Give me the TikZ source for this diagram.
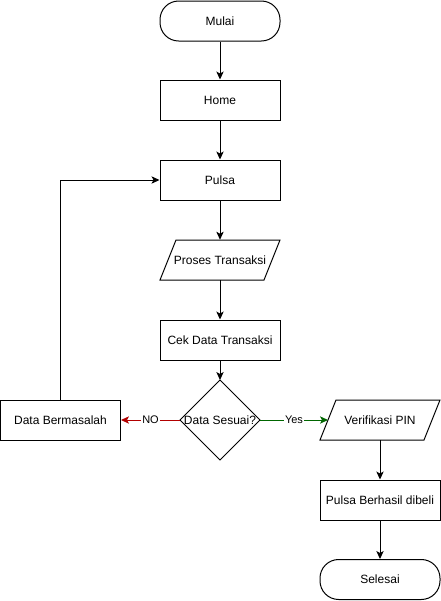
\documentclass[tikz,border=0pt]{standalone}
\usepackage{fontspec}
\setmainfont{Liberation Sans}
\usetikzlibrary{arrows.meta}
\definecolor{noRed}{HTML}{B20000}
\definecolor{yesGreen}{HTML}{006600}
\begin{document}
\begin{tikzpicture}[x=0.75pt,y=-0.75pt,
  every node/.style={font=\fontsize{9pt}{11pt}\selectfont},
  box/.style={draw, line width=0.75pt, minimum width=90pt, minimum height=30pt, inner sep=0pt},
  term/.style={box, rounded corners=14pt},
  plain/.style={minimum width=90pt, minimum height=30pt, inner sep=0pt},
  shapeline/.style={line width=0.75pt},
  flow/.style={line width=0.75pt, -{Stealth[length=6pt,width=5.5pt,inset=1.5pt]}},
  lbl/.style={fill=white, text=black, inner sep=1pt, font=\fontsize{8.25pt}{10pt}\selectfont}]
\useasboundingbox (0,0) rectangle (441,601);

\node[term] (mulai) at (220,21) {Mulai};
\node[box] (home) at (220,100) {Home};
\node[box] (pulsa) at (220,180) {Pulsa};
\draw[shapeline] (176,240) -- (280,240) -- (264,280) -- (160,280) -- cycle;
\node[plain] (proses) at (220,260) {Proses Transaksi};
\node[box] (cek) at (220,340) {Cek Data Transaksi};

\draw[shapeline] (220,380) -- (260,420) -- (220,460) -- (180,420) -- cycle;
\node (dsesuai) at (220,420) {Data Sesuai?};
\coordinate (dtop) at (220,380);
\coordinate (dleft) at (180,420);
\coordinate (dright) at (260,420);

\node[box] (bermasalah) at (60.5,420) {Data Bermasalah};

\draw[shapeline] (336,400) -- (440,400) -- (424,440) -- (320,440) -- cycle;
\node[plain] (verif) at (380,420) {Verifikasi PIN};
\coordinate (vleft) at (328,420);
\coordinate (vbottom) at (380,440);

\node[box] (berhasil) at (380,500) {Pulsa Berhasil dibeli};
\node[term] (selesai) at (380,579.5) {Selesai};

\draw[flow] (mulai) -- (home);
\draw[flow] (home) -- (pulsa);
\draw[flow] (pulsa) -- (proses);
\draw[flow] (proses) -- (cek);
\draw[flow] (cek) -- (dtop);
\draw[flow, noRed] (dleft) -- node[lbl] {NO} (bermasalah);
\draw[flow, yesGreen] (dright) -- node[lbl] {Yes} (vleft);
\draw[flow] (vbottom) -- (berhasil);
\draw[flow] (berhasil) -- (selesai);
\draw[flow] (bermasalah) |- (pulsa);
\end{tikzpicture}
\end{document}
